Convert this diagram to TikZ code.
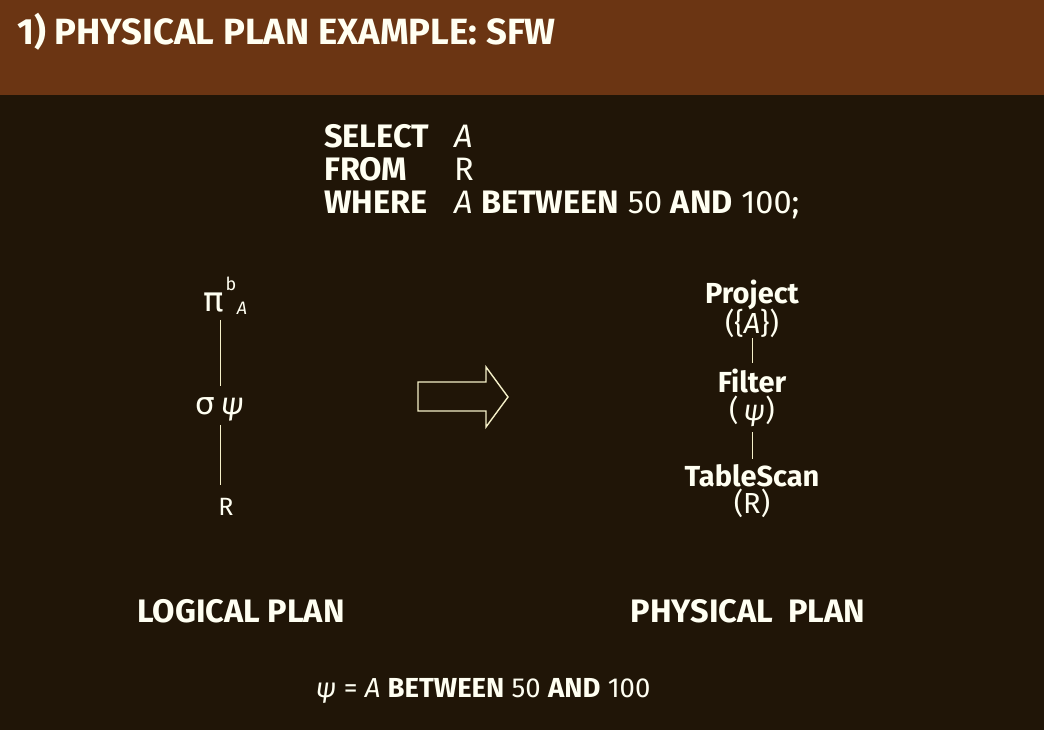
\documentclass[tikz,border=0pt]{standalone}
\usepackage{fontspec}
\setmainfont{Fira Sans}
\newfontfamily\greekfont{DejaVu Sans}
\definecolor{bgdark}{HTML}{201507}
\definecolor{hdr}{HTML}{6B3513}
\definecolor{txt}{HTML}{FFFFF2}
\definecolor{ln}{HTML}{F5F0C8}
\begin{document}
\begin{tikzpicture}[x=1pt,y=-1pt,
  every node/.style={text=txt,inner sep=0pt},
  big/.style={font=\fontsize{29}{32}\selectfont},
  sql/.style={font=\fontsize{32.5}{34}\selectfont},
  lbl/.style={font=\fontsize{32.5}{34}\selectfont\bfseries},
  title/.style={font=\fontsize{36.5}{38}\selectfont\bfseries},
  conn/.style={draw=ln,line width=1pt},
  arrowshape/.style={draw=ln,line width=1.4pt,line join=miter}]
\useasboundingbox (0,0) rectangle (1044,730);
\fill[bgdark] (0,0) rectangle (1044,730);
\fill[hdr] (0,0) rectangle (1044,95);
\node[title,anchor=base west] (ttl) at (17,45) {1) PHYSICAL PLAN EXAMPLE: SFW};
% SQL
\node[sql,anchor=base west] (sel) at (324,148) {\bfseries SELECT};
\node[sql,anchor=base west] (sela) at (454,148) {\itshape A};
\node[sql,anchor=base west] (frm) at (324,181) {\bfseries FROM};
\node[sql,anchor=base west] (frmr) at (454,181) {R};
\node[sql,anchor=base west] (whr) at (324,214) {\bfseries WHERE};
\node[sql,anchor=base west] (whrc) at (454,214) {\textit{A} \textbf{BETWEEN} 50 \textbf{AND} 100;};
% logical plan
\node[font=\fontsize{34}{36}\selectfont\greekfont,anchor=base] (pi) at (214,311) {π};
\node[font=\fontsize{18}{20}\selectfont,anchor=base] (pib) at (231,290) {b};
\node[font=\fontsize{18}{20}\selectfont,anchor=base] (pia) at (242,314) {\itshape A};
\node[font=\fontsize{31}{34}\selectfont,anchor=base] (sig) at (220,414) {{\greekfont σ}\,\textit{ψ}};
\node[font=\fontsize{25}{27}\selectfont,anchor=base] (lr) at (226,515) {R};
\coordinate (lx) at (220,0);
\draw[conn,shorten <=8pt,shorten >=11pt] (pi.south -| lx) -- (sig.north -| lx);
\draw[conn,shorten <=4pt,shorten >=13pt] (sig.south -| lx) -- (lr.north -| lx);
% arrow
\draw[arrowshape] (418,382) -- (486,382) -- (486,367) -- (508,397) -- (486,427) -- (486,411) -- (418,411) -- cycle;
% physical plan
\node[big,anchor=base] (proj) at (752,303) {\bfseries Project};
\node[big,anchor=base] (proja) at (752,333) {(\{\textit{A}\})};
\node[big,anchor=base] (filt) at (752,392) {\bfseries Filter};
\node[big,anchor=base] (filtp) at (752,420) {(\,\textit{ψ})};
\node[big,anchor=base] (scan) at (752,486) {\bfseries TableScan};
\node[big,anchor=base] (scanr) at (752,513) {(R)};
\draw[conn,shorten <=1pt,shorten >=5pt] (proja.south) -- (filt.north);
\draw[conn,shorten <=6pt,shorten >=5pt] (filtp.south) -- (scan.north);
% labels
\node[lbl,anchor=base] (lp) at (241,622) {LOGICAL PLAN};
\node[lbl,anchor=base] (pp) at (748,622) {PHYSICAL\ \ PLAN};
\node[font=\fontsize{27.5}{29}\selectfont,anchor=base] (psi) at (483,697) {\textit{ψ} = \textit{A} \textbf{BETWEEN} 50 \textbf{AND} 100};
\end{tikzpicture}
\end{document}
